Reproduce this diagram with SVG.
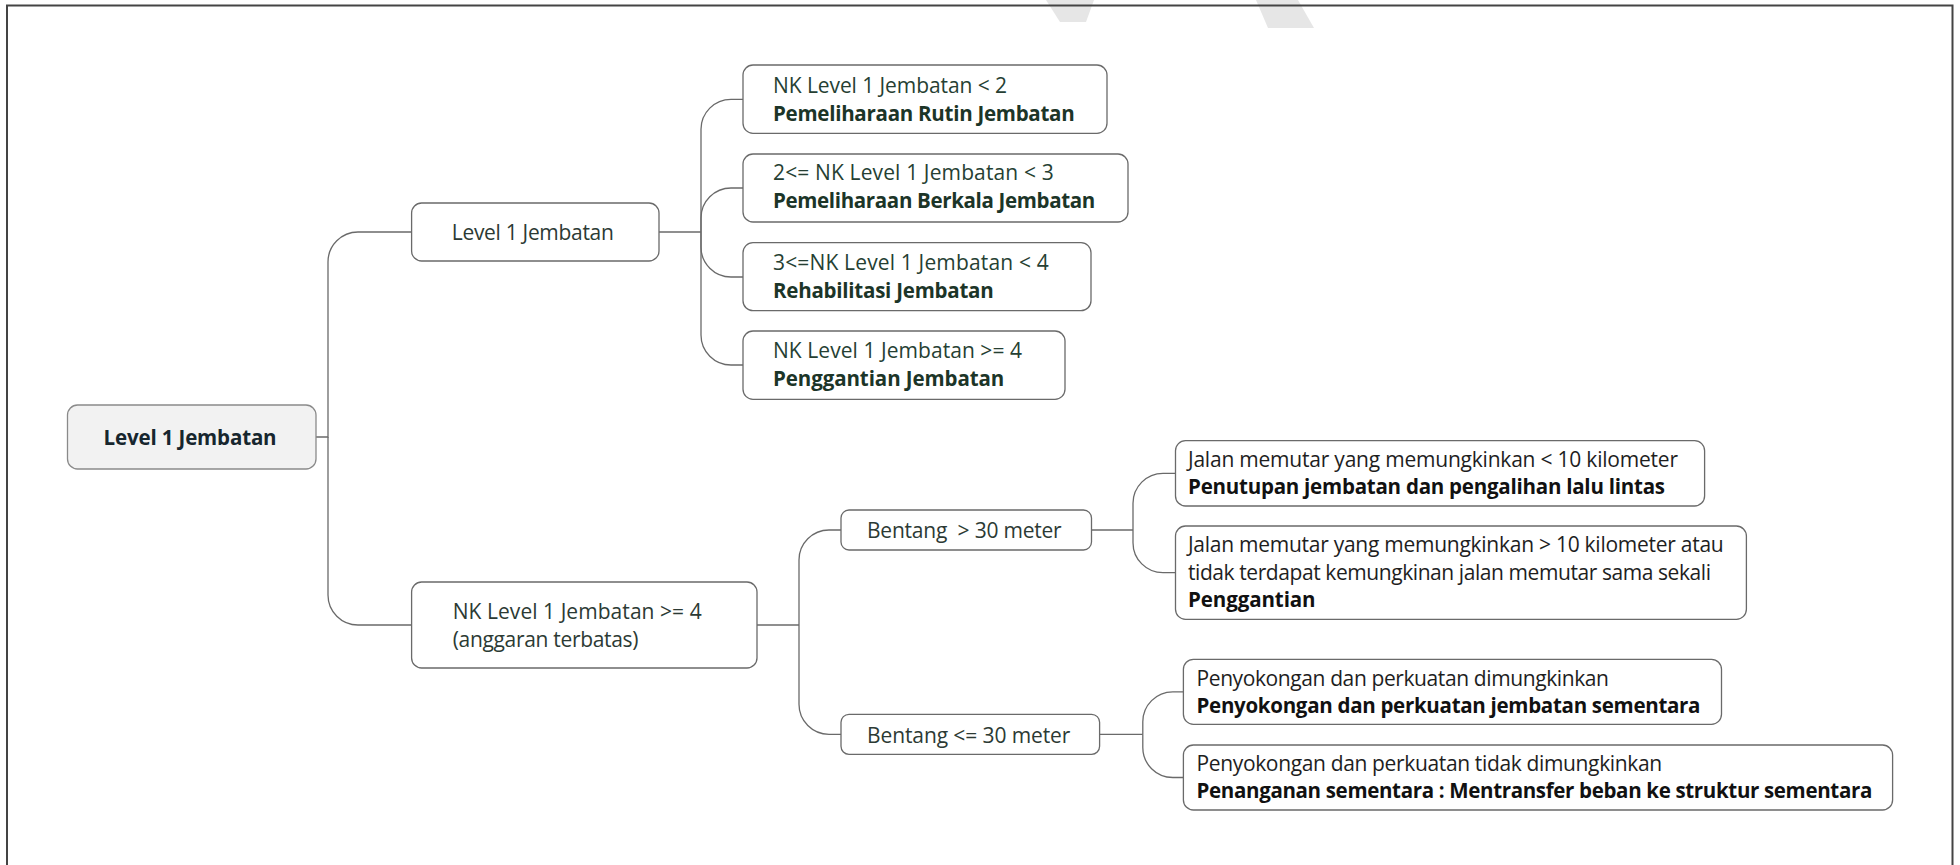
<svg xmlns="http://www.w3.org/2000/svg" width="1960" height="865" viewBox="0 0 1960 865">
<style>
.box{fill:#ffffff;stroke:#6a6a6a;stroke-width:1.3}
.root{fill:#f2f2f2;stroke:#8a8a8a;stroke-width:1.3}
.con{fill:none;stroke:#6a6a6a;stroke-width:1.3}
text{font-family:"Open Sans","Noto Sans","Liberation Sans",sans-serif;font-size:21px}
.g{fill:#263f33}
.gb{fill:#1c3528;font-weight:bold;font-size:20.5px}
.d{fill:#2c3a34}
.k{fill:#1e1e1e}
.kb{fill:#111111;font-weight:bold;font-size:20.5px}
.rt{fill:#17262e;font-weight:bold;font-size:20.5px}
</style>
<rect x="0" y="0" width="1960" height="865" fill="#ffffff"/>
<g id="watermark" fill="#e6e6e6">
<polygon points="1046,0 1094,0 1086,22 1060,22"/>
<polygon points="1256,0 1298,0 1314,28 1268,28"/>
</g>
<path d="M7,865 V5.5 H1952.5 V865" fill="none" stroke="#444444" stroke-width="2"/>
<g id="connectors">
<path class="con" d="M316,437 H328 V262 A30,30 0 0 1 358,232 H411.6"/>
<path class="con" d="M328,437 V595 A30,30 0 0 0 358,625 H411.6"/>
<path class="con" d="M659,232 H701"/>
<path class="con" d="M701,232 V129.3 A30,30 0 0 1 731,99.3 H743"/>
<path class="con" d="M701,232 V218 A30,30 0 0 1 731,188 H743"/>
<path class="con" d="M701,232 V247 A30,30 0 0 0 731,277 H743"/>
<path class="con" d="M701,232 V335 A30,30 0 0 0 731,365 H743"/>
<path class="con" d="M757,625 H799"/>
<path class="con" d="M799,625 V560 A30,30 0 0 1 829,530 H841"/>
<path class="con" d="M799,625 V704.3 A30,30 0 0 0 829,734.3 H841"/>
<path class="con" d="M1091.5,530 H1133"/>
<path class="con" d="M1133,530 V503.3 A30,30 0 0 1 1163,473.3 H1175.5"/>
<path class="con" d="M1133,530 V542.7 A30,30 0 0 0 1163,572.7 H1175.5"/>
<path class="con" d="M1099.6,734.3 H1142.8"/>
<path class="con" d="M1142.8,734.3 V721.8 A30,30 0 0 1 1172.8,691.8 H1183.4"/>
<path class="con" d="M1142.8,734.3 V747.5 A30,30 0 0 0 1172.8,777.5 H1183.4"/>
</g>
<g id="root">
<rect class="root" x="67.5" y="405" width="248.5" height="64" rx="10"/>
<text class="rt" x="103.6" y="445" textLength="173">Level 1 Jembatan</text>
</g>
<g id="level1">
<rect class="box" x="411.6" y="203" width="247.4" height="58" rx="10"/>
<text class="d" x="451.8" y="240" textLength="162">Level 1 Jembatan</text>
</g>
<g id="nk1">
<rect class="box" x="743" y="65" width="364" height="68.3" rx="10"/>
<text class="g" x="773" y="93" textLength="234">NK Level 1 Jembatan &lt; 2</text>
<text class="gb" x="773" y="121" textLength="301.7">Pemeliharaan Rutin Jembatan</text>
</g>
<g id="nk2">
<rect class="box" x="743" y="154" width="385" height="68" rx="10"/>
<text class="g" x="773" y="180" textLength="280.7">2&lt;= NK Level 1 Jembatan &lt; 3</text>
<text class="gb" x="773" y="208.3" textLength="322.3">Pemeliharaan Berkala Jembatan</text>
</g>
<g id="nk3">
<rect class="box" x="743" y="242.7" width="348" height="68" rx="10"/>
<text class="g" x="773" y="270" textLength="275.7">3&lt;=NK Level 1 Jembatan &lt; 4</text>
<text class="gb" x="773" y="297.7" textLength="220.7">Rehabilitasi Jembatan</text>
</g>
<g id="nk4">
<rect class="box" x="743" y="331" width="322" height="68.3" rx="10"/>
<text class="g" x="773" y="358" textLength="249">NK Level 1 Jembatan &gt;= 4</text>
<text class="gb" x="773" y="386" textLength="231.3">Penggantian Jembatan</text>
</g>
<g id="nk-limited">
<rect class="box" x="411.6" y="582" width="345.4" height="86" rx="10"/>
<text class="d" x="452.7" y="619.3" textLength="249">NK Level 1 Jembatan &gt;= 4</text>
<text class="d" x="452.7" y="646.7" textLength="185.7">(anggaran terbatas)</text>
</g>
<g id="bentang-gt">
<rect class="box" x="841" y="510" width="250.5" height="40" rx="8"/>
<text class="d" x="867" y="538.3" textLength="194.7" xml:space="preserve">Bentang  &gt; 30 meter</text>
</g>
<g id="bentang-le">
<rect class="box" x="841" y="714.3" width="258.6" height="40" rx="8"/>
<text class="d" x="867" y="742.7" textLength="203.4">Bentang &lt;= 30 meter</text>
</g>
<g id="jalan-lt">
<rect class="box" x="1175.5" y="440.7" width="529.1" height="65.3" rx="10"/>
<text class="k" x="1188" y="466.7" textLength="490">Jalan memutar yang memungkinkan &lt; 10 kilometer</text>
<text class="kb" x="1188" y="494" textLength="477">Penutupan jembatan dan pengalihan lalu lintas</text>
</g>
<g id="jalan-gt">
<rect class="box" x="1175.5" y="526" width="570.9" height="93.3" rx="10"/>
<text class="k" x="1188" y="551.7" textLength="535.7">Jalan memutar yang memungkinkan &gt; 10 kilometer atau</text>
<text class="k" x="1188" y="580" textLength="523">tidak terdapat kemungkinan jalan memutar sama sekali</text>
<text class="kb" x="1188" y="606.7" textLength="127.6">Penggantian</text>
</g>
<g id="sokong-ya">
<rect class="box" x="1183.4" y="659.3" width="538.1" height="65" rx="10"/>
<text class="k" x="1196.5" y="685.7" textLength="412.5">Penyokongan dan perkuatan dimungkinkan</text>
<text class="kb" x="1196.5" y="713.3" textLength="504">Penyokongan dan perkuatan jembatan sementara</text>
</g>
<g id="sokong-tidak">
<rect class="box" x="1183.4" y="745" width="709.2" height="65" rx="10"/>
<text class="k" x="1196.5" y="771" textLength="465.7">Penyokongan dan perkuatan tidak dimungkinkan</text>
<text class="kb" x="1196.5" y="798.3" textLength="675.8">Penanganan sementara : Mentransfer beban ke struktur sementara</text>
</g>
</svg>
